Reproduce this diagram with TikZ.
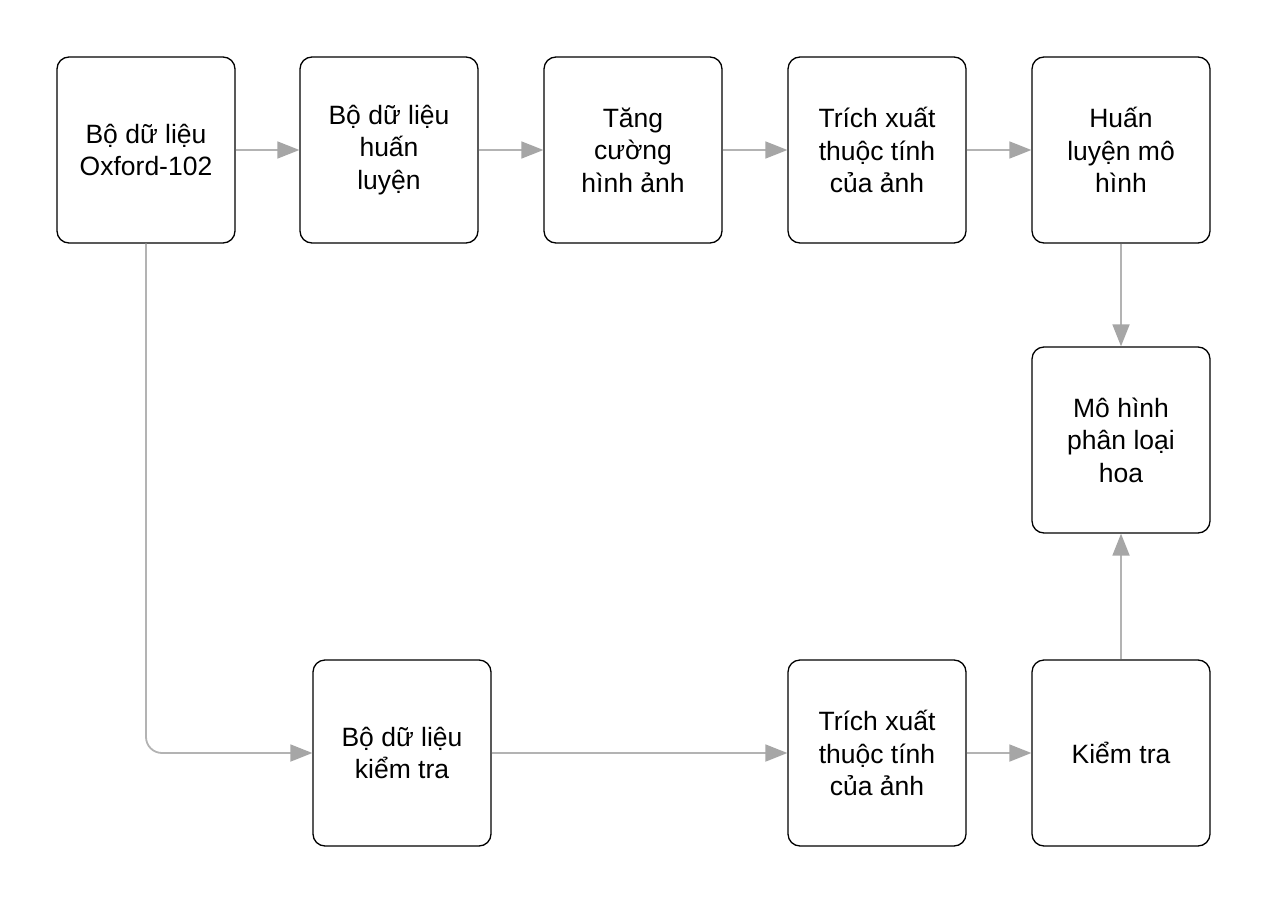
\documentclass[tikz,border=0pt]{standalone}
\usepackage{fontspec}
\setmainfont{Liberation Sans}
\usetikzlibrary{arrows.meta}
\definecolor{linegray}{HTML}{B3B3B3}
\definecolor{headgray}{HTML}{A6A6A6}
\begin{document}
\begin{tikzpicture}[x=1pt,y=-1pt,
  box/.style={draw=black,line width=1.3pt,rounded corners=12pt,minimum width=178pt,minimum height=186pt,
    align=center,font=\fontsize{26.5pt}{32.5pt}\selectfont,inner sep=0pt},
  conn/.style={draw=linegray,line width=1.8pt,-{Triangle[length=22pt,width=17pt,color=headgray]}}]
\useasboundingbox (0,0) rectangle (1268,904);
\node[box] (b1) at (146,150) {Bộ dữ liệu\\Oxford-102};
\node[box] (b2) at (389,150) {Bộ dữ liệu\\huấn\\luyện};
\node[box] (b3) at (633,150) {Tăng\\cường\\hình ảnh};
\node[box] (b4) at (877,150) {Trích xuất\\thuộc tính\\của ảnh};
\node[box] (b5) at (1121,150) {Huấn\\luyện mô\\hình};
\node[box] (m) at (1121,440) {Mô hình\\phân loại\\hoa};
\node[box] (t1) at (402,753) {Bộ dữ liệu\\kiểm tra};
\node[box] (t2) at (877,753) {Trích xuất\\thuộc tính\\của ảnh};
\node[box] (t3) at (1121,753) {Kiểm tra};
\draw[conn] (b1) -- (b2);
\draw[conn] (b2) -- (b3);
\draw[conn] (b3) -- (b4);
\draw[conn] (b4) -- (b5);
\draw[conn] (b5) -- (m);
\draw[conn,rounded corners=16pt] (b1.south) |- (t1.west);
\draw[conn] (t1) -- (t2);
\draw[conn] (t2) -- (t3);
\draw[conn] (t3) -- (m);
\end{tikzpicture}
\end{document}
